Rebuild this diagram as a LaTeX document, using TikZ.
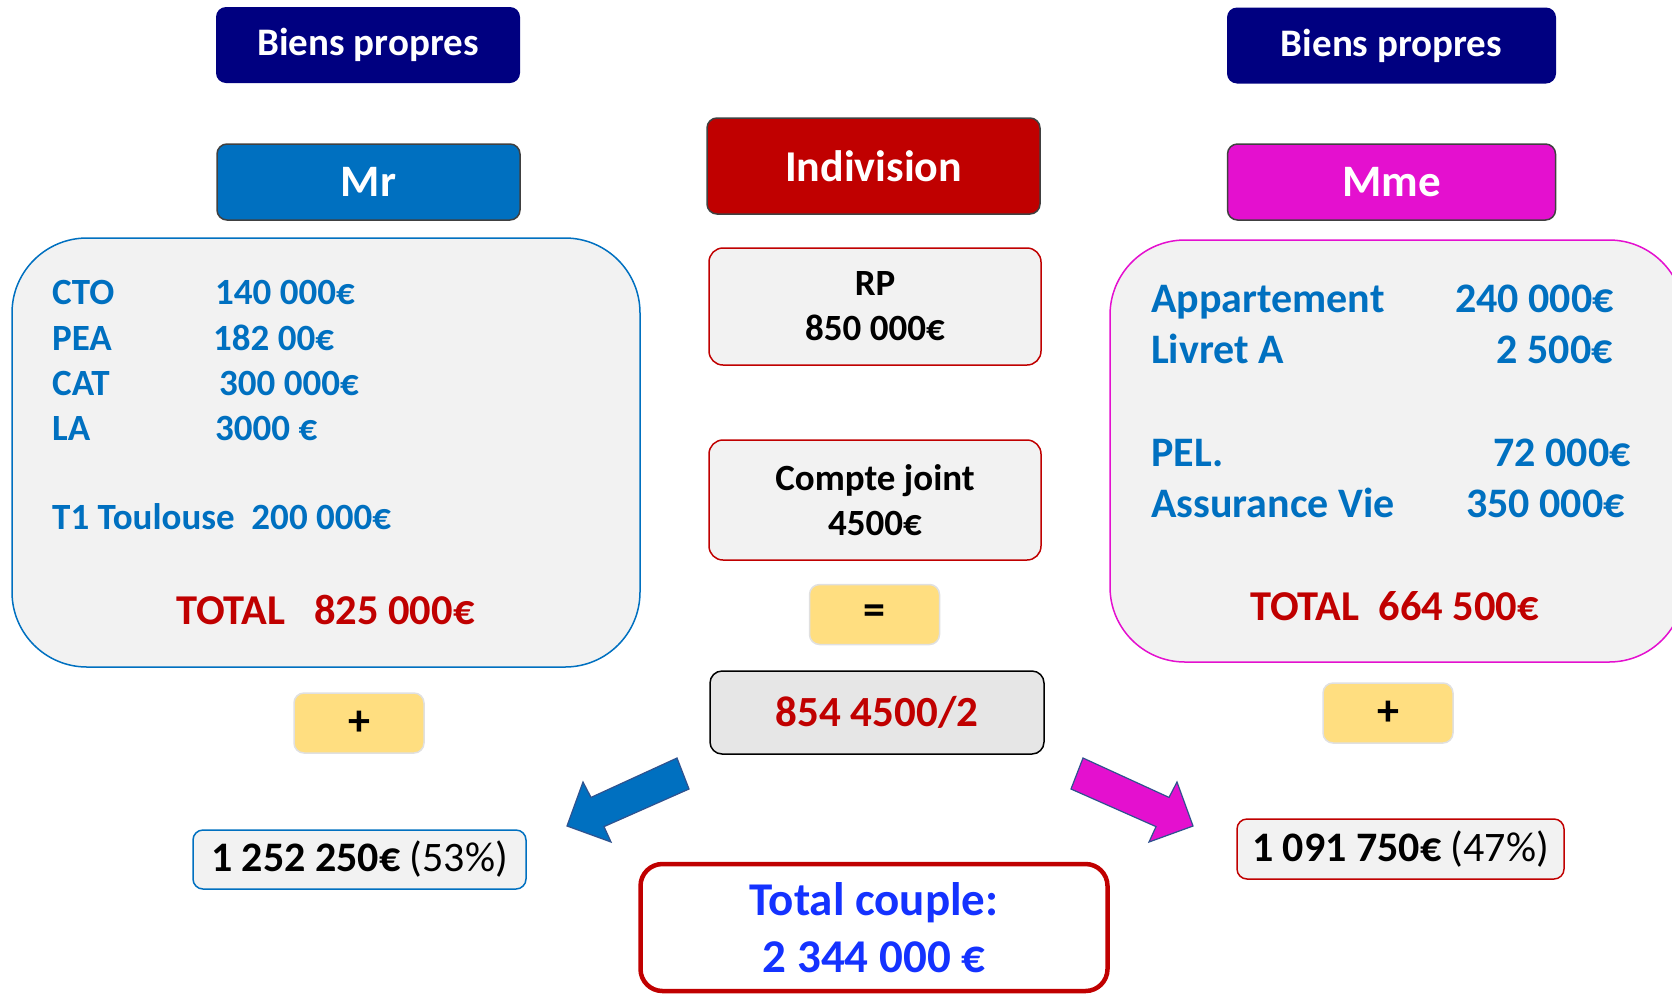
\documentclass[tikz,border=0pt]{standalone}
\usepackage{fontspec}
\setmainfont{Carlito}
\usetikzlibrary{positioning}
\definecolor{navy}{RGB}{0,0,128}
\definecolor{mrblue}{RGB}{0,112,192}
\definecolor{mmepink}{RGB}{228,16,207}
\definecolor{darkred}{RGB}{192,0,0}
\definecolor{boxgray}{RGB}{242,242,242}
\definecolor{halfgray}{RGB}{230,230,230}
\definecolor{opyellow}{RGB}{255,222,128}
\definecolor{arrowedge}{RGB}{47,82,143}
\definecolor{coupleblue}{RGB}{20,50,255}
\tikzset{
	title/.style = {rounded corners = 10pt, inner sep = 0pt, minimum height = 76pt, text = white, font = \bfseries\fontsize{39}{47}\selectfont},
	person/.style = {title, draw = black!75, line width = 1.5pt, font = \bfseries\fontsize{45}{54}\selectfont},
	asset/.style = {inner sep = 0pt, text = mrblue, font = \bfseries\fontsize{37}{44}\selectfont},
	assetmme/.style = {asset, font = \bfseries\fontsize{42}{50}\selectfont},
	total/.style = {inner sep = 0pt, text = darkred, font = \bfseries\fontsize{42.5}{50}\selectfont},
	pot/.style = {draw = darkred, fill = boxgray, line width = 1.5pt, rounded corners = 14pt, inner sep = 0pt, minimum width = 332pt, align = center, font = \bfseries\fontsize{37}{45}\selectfont},
	op/.style = {draw = black!12, fill = opyellow, line width = 1.5pt, rounded corners = 10pt, inner sep = 0pt, minimum width = 130pt, minimum height = 60pt, font = \bfseries\fontsize{44}{50}\selectfont},
	share/.style = {fill = boxgray, line width = 1.5pt, rounded corners = 10pt, inner sep = 0pt, minimum height = 59pt, font = \fontsize{42}{50}\selectfont},
	bigarrow/.style = {draw = arrowedge, line width = 1.2pt, line join = miter}
}

\begin{document}
\begin{tikzpicture}[x = 1pt, y = -1pt]
	\useasboundingbox (0,0) rectangle (1672,994);
	\clip (0,0) rectangle (1672,994);
	\node[title, fill = navy, minimum width = 304pt] (bpmr) at (368,45) {Biens propres};
	\node[title, fill = navy, minimum width = 329pt] (bpmme) at (1391.5,45.5) {Biens propres};
	\node[person, fill = mrblue, minimum width = 303pt] (mr) at (368.5,182) {Mr};
	\node[person, fill = mmepink, minimum width = 328pt] (mme) at (1391.5,182) {Mme};
	\node[person, fill = darkred, minimum width = 333pt, minimum height = 96pt, font = \bfseries\fontsize{44}{52}\selectfont] (indiv) at (873.5,166) {Indivision};

	\draw[fill = boxgray, draw = mrblue, line width = 1.5pt, rounded corners = 75pt] (12,238) rectangle (640,667);
	\draw[fill = boxgray, draw = mmepink, line width = 1.5pt, rounded corners = 75pt] (1110,240) rectangle (1684,662);

	\node[asset, anchor = base west] (cto) at (52,304) {CTO};
	\node[asset, anchor = base west] (ctoval) at (215,304) {140 000€};
	\node[asset, anchor = base west] (pea) at (52,350) {PEA};
	\node[asset, anchor = base west] (peaval) at (213,350) {182 00€};
	\node[asset, anchor = base west] (cat) at (52,395) {CAT};
	\node[asset, anchor = base west] (catval) at (219,395) {300 000€};
	\node[asset, anchor = base west] (la) at (52,440) {LA};
	\node[asset, anchor = base west] (laval) at (215,440) {3000 €};
	\node[asset, anchor = base west] (toulouse) at (52,529) {T1 Toulouse\ \ 200 000€};
	\node[total, anchor = base west] (totalmr) at (176,624) {TOTAL\ \ \ 825 000€};

	\node[assetmme, anchor = base west] (appart) at (1151,312) {Appartement};
	\node[assetmme, anchor = base east] (appartval) at (1614,312) {240 000€};
	\node[assetmme, anchor = base west] (livret) at (1151,363) {Livret A};
	\node[assetmme, anchor = base east] (livretval) at (1613,363) {2 500€};
	\node[assetmme, anchor = base west] (pel) at (1151,466) {PEL.};
	\node[assetmme, anchor = base east] (pelval) at (1631,466) {72 000€};
	\node[assetmme, anchor = base west] (av) at (1151,517) {Assurance Vie};
	\node[assetmme, anchor = base east] (avval) at (1625,517) {350 000€};
	\node[total, anchor = base west] (totalmme) at (1250,620) {TOTAL\ \ 664 500€};

	\node[pot, minimum height = 117pt] (rp) at (875,306.5) {RP\\850 000€};
	\node[pot, minimum height = 120pt] (joint) at (875,500) {Compte joint\\4500€};
	\node[op] (eq) at (874.5,614.5) {=};
	\node[draw = black, fill = halfgray, line width = 1.5pt, rounded corners = 12pt, inner sep = 0pt, minimum width = 334pt, minimum height = 83pt, text = darkred, font = \bfseries\fontsize{43}{50}\selectfont] (half) at (877,712.5) {854 4500/2};

	\node[op] (plusmr) at (359,723) {+};
	\node[op] (plusmme) at (1388,713) {+};

	\draw[bigarrow, fill = mrblue] (677,758) -- (591,797.4) -- (583,782) -- (567,826) -- (611,842) -- (604,826.6) -- (689,789) -- cycle;
	\draw[bigarrow, fill = mmepink] (1083,758) -- (1169,797.4) -- (1177,782) -- (1193,826) -- (1149,842) -- (1156,826.6) -- (1071,789) -- cycle;

	\node[share, draw = mrblue, minimum width = 333pt] (sharemr) at (359.5,859.5) {\textbf{1 252 250€} (53\%)};
	\node[share, draw = darkred, minimum width = 327pt, minimum height = 60pt] (sharemme) at (1400.5,849) {\textbf{1 091 750€} (47\%)};

	\node[draw = darkred, line width = 4.5pt, rounded corners = 22pt, inner sep = 0pt, minimum width = 467pt, minimum height = 127pt, text = coupleblue, align = center, font = \bfseries\fontsize{47}{57}\selectfont] (couple) at (874,927.5) {Total couple:\\2 344 000 €};
\end{tikzpicture}
\end{document}
